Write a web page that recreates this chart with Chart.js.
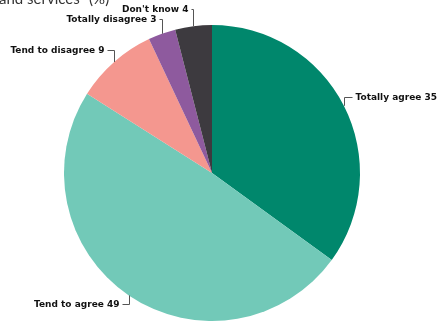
<!DOCTYPE html>
<html><head><meta charset="utf-8">
<script src="https://cdn.jsdelivr.net/npm/chart.js@4/dist/chart.umd.min.js"></script>
<style>html,body{margin:0;padding:0;background:#fff;}#wrap{width:446px;height:325px;position:relative;}</style>
</head><body><div id="wrap"><canvas id="c" width="446" height="325"></canvas></div>
<script>
const categories = ["Totally agree", "Tend to agree", "Tend to disagree", "Totally disagree", "Don't know"];
const values = [35, 49, 9, 3, 4];
const colors = ["#00876c", "#72c9b8", "#f4978f", "#8e5a9e", "#3d3a3f"];
const titleText = "and services\" (%)";
// leader style per slice: vertical rise (negative = up), side, horizontal length
const leaderRise = [-9, 9, -12, -15, -17];
const leaderSide = [1, -1, -1, -1, -1];
const leaderLen = [8, 7, 7, 3, 2];

const labelPlugin = {
  id: 'labels',
  afterDraw(chart) {
    const ctx = chart.ctx;
    ctx.save();
    ctx.font = "15px 'Lato'";
    ctx.fillStyle = '#333';
    ctx.textBaseline = 'alphabetic';
    ctx.fillText(titleText, -1, 4);
    const meta = chart.getDatasetMeta(0);
    ctx.font = "bold 9px 'DejaVu Sans'";
    ctx.strokeStyle = '#555';
    ctx.lineWidth = 1;
    meta.data.forEach((arc, i) => {
      const p = arc.getProps(['x','y','startAngle','endAngle','outerRadius'], true);
      const mid = (p.startAngle + p.endAngle) / 2;
      const ax = p.x + Math.cos(mid) * p.outerRadius;
      const ay = p.y + Math.sin(mid) * p.outerRadius;
      const ey = Math.round(ay + leaderRise[i]) + 0.5;
      const axr = Math.round(ax) + 0.5;
      const side = leaderSide[i];
      const hx = axr + side * leaderLen[i];
      ctx.beginPath();
      ctx.moveTo(axr, ay);
      ctx.lineTo(axr, ey);
      ctx.lineTo(hx, ey);
      ctx.stroke();
      const txt = categories[i] + ' ' + values[i];
      ctx.fillStyle = '#111';
      ctx.textBaseline = 'middle';
      ctx.textAlign = side > 0 ? 'left' : 'right';
      ctx.fillText(txt, hx + side * 3, ey);
    });
    ctx.restore();
  }
};

new Chart(document.getElementById('c'), {
  type: 'pie',
  data: { labels: categories, datasets: [{ data: values, backgroundColor: colors, borderWidth: 0 }] },
  options: {
    responsive: false, animation: false,
    layout: { padding: { left: 64, right: 86, top: 25, bottom: 4 } },
    plugins: { legend: { display: false }, tooltip: { enabled: false } }
  },
  plugins: [labelPlugin]
});
</script></body></html>
